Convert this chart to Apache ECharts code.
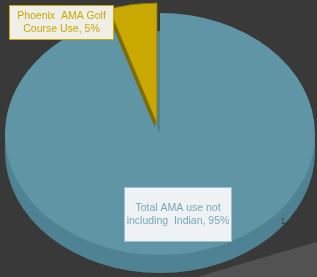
<!DOCTYPE html>
<html><head><meta charset="utf-8">
<script src="https://cdn.jsdelivr.net/npm/echarts@6/dist/echarts.min.js"></script>
<style>html,body{margin:0;padding:0;background:#393939;}#c{width:317px;height:277px;}</style>
</head><body><div id="c"></div>
<script>
const categories = ["Total AMA use not including  Indian", "Phoenix  AMA Golf Course Use"];
const values = [95, 5];
const labelLines = [["Total AMA use not", "including  Indian, 95%"], ["Phoenix  AMA Golf", "Course Use, 5%"]];

const CX = 160, CY = 134, RX = 155, RY = 121, DEPTH = 18;
const SY = RY / RX;
const faceColors = ["#5f95a5", "#c9a800"];
const sideColors = ["#4f8393", "#7d6c08"];
const explode = [[0, 0], [-3, -10]];
const total = values.reduce((a, b) => a + b, 0);

const chart = echarts.init(document.getElementById('c'), null, {renderer: 'canvas'});

function renderItem(params, api) {
  const i = params.dataIndex;
  const v = api.value(0);
  let before = 0;
  for (let k = 0; k < i; k++) before += values[k];
  const start = -Math.PI / 2 + before / total * Math.PI * 2;
  const end = start + v / total * Math.PI * 2;
  const children = [];
  if (i === 0) {
    children.push({type: 'rect', shape: {x: -RX, y: 0, width: 2 * RX, height: DEPTH / SY}, style: {fill: sideColors[0]}});
    children.push({type: 'sector', shape: {cx: 0, cy: DEPTH / SY, r: RX, r0: 0, startAngle: 0, endAngle: Math.PI * 2}, style: {fill: sideColors[0]}});
    children.push({type: 'sector', shape: {cx: 0, cy: 0, r: RX, r0: 0, startAngle: start, endAngle: end, clockwise: true}, style: {fill: faceColors[0]}});
  } else {
    children.push({type: 'sector', shape: {cx: -2, cy: 5, r: RX, r0: 0, startAngle: start, endAngle: end, clockwise: true}, style: {fill: sideColors[1]}});
    children.push({type: 'sector', shape: {cx: 0, cy: 0, r: RX, r0: 0, startAngle: start, endAngle: end, clockwise: true}, style: {fill: faceColors[1], stroke: '#8a7a10', lineWidth: 1}});
  }
  return {
    type: 'group',
    x: CX + explode[i][0], y: CY + explode[i][1],
    scaleY: SY,
    children: children
  };
}

const bandPts = [];
for (let t = 0; t <= 1.0001; t += 0.05) {
  const x = (1 - t) * (1 - t) * 317 + 2 * (1 - t) * t * 260 + t * t * 198;
  const y = (1 - t) * (1 - t) * 242 + 2 * (1 - t) * t * 258 + t * t * 277;
  bandPts.push([x, y]);
}
bandPts.push([317, 277]);

const FONT = '10.5px "Liberation Sans", Arial, sans-serif';
const option = {
  backgroundColor: '#393939',
  animation: false,
  graphic: [
    {type: 'polygon', z: -10, shape: {points: bandPts}, style: {fill: '#525252'}},
    {type: 'rect', z: 100, shape: {x: 9.5, y: 5.5, width: 104, height: 34}, style: {fill: '#f0efe7', stroke: '#c9a800', lineWidth: 1}},
    {type: 'text', z: 101, x: 61.5, y: 22.5, style: {text: labelLines[1].join('\n'), fill: '#c9a800', font: FONT, align: 'center', verticalAlign: 'middle', lineHeight: 13}},
    {type: 'rect', z: 100, shape: {x: 124.5, y: 187.5, width: 107, height: 54}, style: {fill: '#eef2f5', stroke: '#9fc0cc', lineWidth: 1}},
    {type: 'text', z: 101, x: 178, y: 214.5, style: {text: labelLines[0].join('\n'), fill: '#7aa6b8', font: FONT, align: 'center', verticalAlign: 'middle', lineHeight: 13}},
    {type: 'text', z: 101, x: 283, y: 222, style: {text: '1', fill: '#2f4a52', font: '9px "Liberation Sans", Arial, sans-serif', align: 'center', verticalAlign: 'middle'}}
  ],
  series: [{
    type: 'custom',
    coordinateSystem: 'none',
    z: 2,
    renderItem: renderItem,
    data: values.map((v, i) => ({value: [v], name: categories[i]}))
  }]
};
chart.setOption(option);
</script></body></html>
